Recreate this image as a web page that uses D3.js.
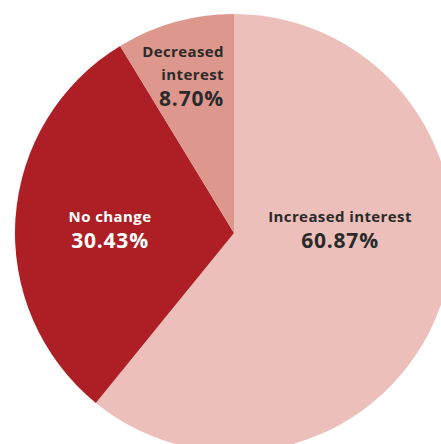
<!DOCTYPE html>
<html>
<head>
<meta charset="utf-8">
<script src="https://cdn.jsdelivr.net/npm/d3@7"></script>
<style>
  html, body { margin: 0; padding: 0; background: #ffffff; }
  svg { display: block; }
</style>
</head>
<body>
<svg id="chart" width="441" height="444"></svg>
<script>
// Survey responses: change in interest
const categories = ["Increased interest", "No change", "Decreased interest"];
const values = [60.87, 30.43, 8.70];
const colors = ["#ecbfba", "#ae1f25", "#de978c"];
const textColors = ["#2a2a2a", "#ffffff", "#2a2a2a"];

const svg = d3.select("#chart");
const cx = 234, cy = 233, radius = 219;

const pie = d3.pie().sort(null).value(d => d.value);
const arcs = pie(categories.map((c, i) => ({ name: c, value: values[i], i })));
const arc = d3.arc().innerRadius(0).outerRadius(radius);

const g = svg.append("g").attr("transform", `translate(${cx},${cy})`);

g.selectAll("path.slice")
  .data(arcs)
  .join("path")
  .attr("class", "slice")
  .attr("d", arc)
  .attr("fill", d => colors[d.data.i]);

const fmt = v => v.toFixed(2) + "%";
const font = "'Open Sans', Lato, sans-serif";

// label layout: lines of category name followed by the percentage
const labels = [
  { i: 0, x: 106, y: -11, anchor: "middle", lines: ["Increased interest"] },
  { i: 1, x: -124, y: -11, anchor: "middle", lines: ["No change"] },
  { i: 2, x: -10, y: -176, anchor: "end", lines: ["Decreased", "interest"] }
];

labels.forEach(l => {
  const t = g.append("text")
    .attr("text-anchor", l.anchor)
    .attr("fill", textColors[l.i])
    .attr("font-family", font)
    .attr("font-weight", 700);
  l.lines.forEach((ln, k) => {
    t.append("tspan")
      .attr("x", l.x)
      .attr("y", l.y + k * 23)
      .attr("font-size", 15)
      .attr("letter-spacing", 0.4)
      .text(ln);
  });
  t.append("tspan")
    .attr("x", l.x)
    .attr("y", l.y + l.lines.length * 23 + 3)
    .attr("font-size", 21)
    .attr("letter-spacing", 0.8)
    .text(fmt(values[l.i]));
});
</script>
</body>
</html>
